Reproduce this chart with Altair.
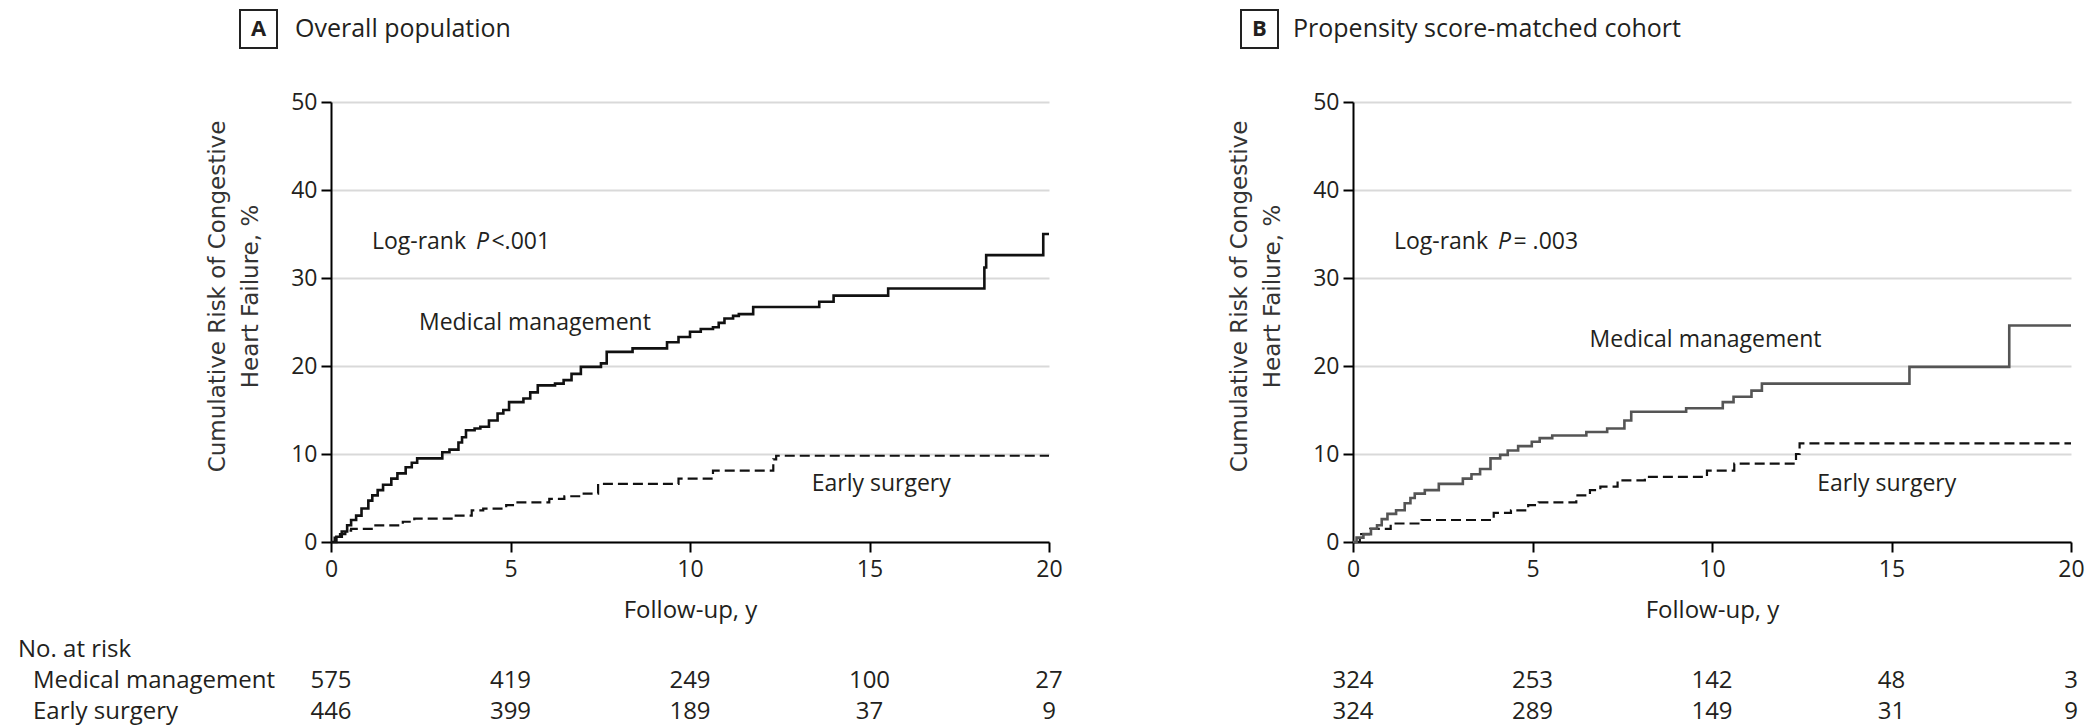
import altair as alt
import pandas as pd

FONT = "Open Sans"
YFONT = "DejaVu Sans"
TXT = "#231f20"

# ---------------- data ----------------
years_ticks = [0, 5, 10, 15, 20]
risk_ticks = [0, 10, 20, 30, 40, 50]

a_med_t = [0, 0.15, 0.3, 0.45, 0.56, 0.7, 0.85, 1.04, 1.15, 1.3, 1.45, 1.68, 1.85, 2.08, 2.25,
           2.4, 3.1, 3.3, 3.55, 3.65, 3.76, 4.0, 4.16, 4.4, 4.64, 4.8, 4.96, 5.36, 5.55, 5.76,
           6.24, 6.48, 6.7, 6.96, 7.52, 7.68, 8.4, 9.36, 9.68, 10.0, 10.3, 10.64, 10.8, 10.96, 11.2,
           11.36, 11.76, 13.6, 14.0, 15.52, 18.2, 18.25, 19.84, 20]
a_med_v = [0, 0.6, 1.2, 1.9, 2.5, 3.0, 3.8, 4.7, 5.3, 5.9, 6.5, 7.2, 7.8, 8.5, 9.0,
           9.5, 10.2, 10.5, 11.3, 11.9, 12.7, 12.9, 13.1, 13.8, 14.6, 15.0, 15.9, 16.3, 17.0, 17.8,
           18.0, 18.4, 19.1, 19.9, 20.3, 21.6, 22.0, 22.7, 23.3, 23.9, 24.2, 24.4, 24.9, 25.4, 25.7,
           25.9, 26.7, 27.3, 28.0, 28.8, 31.2, 32.6, 35.0, 35.0]

a_es_t = [0, 0.1, 0.25, 0.4, 0.56, 1.2, 2.0, 2.32, 3.44, 3.92, 4.24, 4.88, 5.12, 6.08, 6.5,
          6.96, 7.44, 9.68, 10.64, 12.32, 12.4, 20]
a_es_v = [0, 0.5, 0.9, 1.3, 1.5, 1.9, 2.3, 2.65, 3.0, 3.6, 3.8, 4.2, 4.5, 4.9, 5.2,
          5.5, 6.6, 7.2, 8.1, 9.4, 9.8, 9.8]

b_med_t = [0, 0.1, 0.29, 0.5, 0.67, 0.8, 0.96, 1.2, 1.44, 1.6, 1.72, 2.0, 2.39, 3.06, 3.3,
           3.54, 3.83, 4.1, 4.31, 4.6, 4.98, 5.2, 5.55, 6.5, 7.08, 7.56, 7.75, 9.28, 10.3, 10.6,
           11.1, 11.39, 15.5, 18.28, 20]
b_med_v = [0, 0.5, 0.9, 1.5, 1.9, 2.6, 3.2, 3.6, 4.4, 5.0, 5.5, 5.9, 6.6, 7.2, 7.7,
           8.3, 9.5, 9.9, 10.4, 10.9, 11.4, 11.8, 12.1, 12.5, 12.9, 13.8, 14.8, 15.2, 15.9, 16.5,
           17.2, 18.0, 19.9, 24.6, 24.6]

b_es_t = [0, 0.19, 0.48, 1.05, 1.91, 3.92, 4.4, 4.88, 5.17, 6.22, 6.6, 6.89, 7.37, 8.13, 9.86,
          10.62, 12.34, 12.44, 20]
b_es_v = [0, 0.9, 1.5, 2.1, 2.5, 3.3, 3.6, 4.2, 4.5, 5.3, 5.9, 6.3, 7.0, 7.4, 8.1,
          8.9, 10.0, 11.2, 11.2]

a_risk_med = ["575", "419", "249", "100", "27"]
a_risk_es = ["446", "399", "189", "37", "9"]
b_risk_med = ["324", "253", "142", "48", "3"]
b_risk_es = ["324", "289", "149", "31", "9"]

row_labels = ["No. at risk", "Medical management", "Early surgery"]

W, H = 718, 440
ROW_Y = [H + 115, H + 146, H + 177]


def x_enc():
    return alt.X("t:Q", scale=alt.Scale(domain=[0, 20], nice=False, zero=False),
                 axis=alt.Axis(values=years_ticks, title="Follow-up, y", grid=False,
                               labelFont=FONT, labelFontSize=23, labelColor=TXT,
                               labelFlush=False, labelPadding=6,
                               titleFont=FONT, titleFontSize=24, titleFontWeight="normal",
                               titleColor=TXT, titlePadding=17,
                               domainColor="black", domainWidth=2,
                               tickColor="black", tickWidth=2, tickSize=10))


def y_enc():
    return alt.Y("v:Q", scale=alt.Scale(domain=[0, 50], nice=False),
                 axis=alt.Axis(values=risk_ticks,
                               title=["Cumulative Risk of Congestive", "Heart Failure, %"],
                               grid=True, gridColor="#d9d9d9", gridWidth=2,
                               labelFont=FONT, labelFontSize=23, labelColor=TXT,
                               labelFlush=False, labelPadding=4,
                               titleFont=YFONT, titleFontSize=23, titleFontWeight="normal",
                               titleColor="#333333", titleLineHeight=33,
                               titleAngle=270, titleAlign="center", titleBaseline="middle",
                               titleX=-114, titleY=194,
                               domainColor="black", domainWidth=2,
                               tickColor="black", tickWidth=2, tickSize=10))


def panel(med_t, med_v, es_t, es_v, med_color, letter, title, box_x0, title_x,
          rest_text, med_lab_xy, es_lab_xy, risk_med, risk_es, show_rows):
    med = pd.DataFrame({"t": med_t, "v": med_v})
    es = pd.DataFrame({"t": es_t, "v": es_v})

    l_med = alt.Chart(med).mark_line(interpolate="step-after", color=med_color,
                                     strokeWidth=2.6).encode(x=x_enc(), y=y_enc())
    l_es = alt.Chart(es).mark_line(interpolate="step-after", color="#111111",
                                   strokeWidth=2.2, strokeDash=[10, 5]).encode(x=x_enc(), y=y_enc())

    ann = pd.DataFrame({"t": [1.14, med_lab_xy[0], es_lab_xy[0]],
                        "v": [33.3, med_lab_xy[1], es_lab_xy[1]],
                        "label": ["Log-rank", "Medical management", "Early surgery"]})
    t_ann = alt.Chart(ann).mark_text(align="left", baseline="alphabetic", font=FONT,
                                     fontSize=23, color=TXT).encode(
        x=x_enc(), y=y_enc(), text="label:N")
    pit = pd.DataFrame({"t": [4.04], "v": [33.3], "label": ["P"]})
    t_p = alt.Chart(pit).mark_text(align="left", baseline="alphabetic", font=FONT,
                                   fontSize=23, fontStyle="italic", color=TXT).encode(
        x=x_enc(), y=y_enc(), text="label:N")
    rest = pd.DataFrame({"t": [4.47], "v": [33.3], "label": [rest_text]})
    t_rest = alt.Chart(rest).mark_text(align="left", baseline="alphabetic", font=FONT,
                                       fontSize=23, color=TXT).encode(
        x=x_enc(), y=y_enc(), text="label:N")

    risk = pd.DataFrame({"t": years_ticks * 2, "label": risk_med + risk_es,
                         "row": ["m"] * 5 + ["e"] * 5})
    t_rm = alt.Chart(risk).transform_filter(alt.datum.row == "m").mark_text(
        align="center", baseline="alphabetic", font=FONT, fontSize=24, color=TXT).encode(
        x=x_enc(), y=alt.value(ROW_Y[1]), text="label:N")
    t_re = alt.Chart(risk).transform_filter(alt.datum.row == "e").mark_text(
        align="center", baseline="alphabetic", font=FONT, fontSize=24, color=TXT).encode(
        x=x_enc(), y=alt.value(ROW_Y[2]), text="label:N")

    one = pd.DataFrame({"k": [letter], "title": [title]})
    box = alt.Chart(one).mark_rect(fill="white", stroke="#222222", strokeWidth=2).encode(
        x=alt.value(box_x0), x2=alt.value(box_x0 + 37),
        y=alt.value(-92), y2=alt.value(-54))
    box_t = alt.Chart(one).mark_text(align="center", baseline="middle", font=FONT,
                                     fontSize=22, fontWeight="bold", color=TXT).encode(
        x=alt.value(box_x0 + 18.5), y=alt.value(-73), text="k:N")
    ttl = alt.Chart(one).mark_text(align="left", baseline="alphabetic", font=FONT,
                                   fontSize=25, color=TXT).encode(
        x=alt.value(title_x), y=alt.value(-65), text="title:N")

    layers = [l_es, l_med, t_ann, t_p, t_rest, t_rm, t_re, box, box_t, ttl]

    if show_rows:
        rows = pd.DataFrame({"label": row_labels,
                             "px": [-313, -298, -298],
                             "py": ROW_Y})
        t_rows = alt.Chart(rows).mark_text(align="left", baseline="alphabetic", font=FONT,
                                           fontSize=24, color=TXT).encode(
            x=alt.X("px:Q", scale=None), y=alt.Y("py:Q", scale=None), text="label:N")
        layers.append(t_rows)

    return alt.layer(*layers).properties(width=W, height=H)


pa = panel(a_med_t, a_med_v, a_es_t, a_es_v, "#111111", "A", "Overall population",
           -91, -36, "<.001", (2.45, 24.1), (13.39, 5.8), a_risk_med, a_risk_es, True)
pb = panel(b_med_t, b_med_v, b_es_t, b_es_v, "#555555", "B", "Propensity score-matched cohort",
           -112, -60, "= .003", (6.59, 22.2), (12.93, 5.8), b_risk_med, b_risk_es, False)

chart = alt.hconcat(pa, pb, spacing=304, bounds="flush").properties(
    padding={"left": 18, "top": 9, "right": 5, "bottom": 5},
    background="white",
).configure_view(stroke=None)

chart.save("out.html", embed_options={"renderer": "svg", "actions": False})
